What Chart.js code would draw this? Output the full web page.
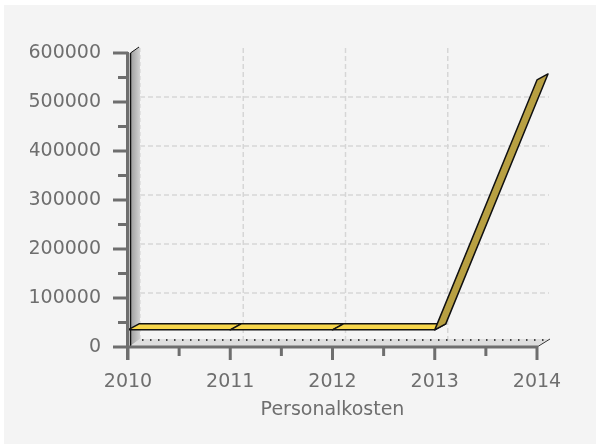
<!DOCTYPE html>
<html>
<head>
<meta charset="utf-8">
<script src="https://cdn.jsdelivr.net/npm/chart.js@4.4.0/dist/chart.umd.min.js"></script>
<style>
html, body { margin: 0; padding: 0; background: #ffffff; }
</style>
</head>
<body>
<canvas id="chart" width="596" height="444"></canvas>
<script>
const years = ["2010", "2011", "2012", "2013", "2014"];
const personalkosten = [35000, 35000, 35000, 35000, 545000];
const yTicks = [0, 100000, 200000, 300000, 400000, 500000, 600000];

const axisGray = "#6e6e6e";
const labelFont = { family: "DejaVu Sans", size: 19 };
const depthX = 11;
const depthY = -6;

function line(ctx, x1, y1, x2, y2) {
    ctx.beginPath();
    ctx.moveTo(x1, y1);
    ctx.lineTo(x2, y2);
    ctx.stroke();
}

const panelPlugin = {
    id: "panel",
    beforeDraw(chart) {
        const ctx = chart.ctx;
        ctx.save();
        ctx.fillStyle = "#ffffff";
        ctx.fillRect(0, 0, chart.width, chart.height);
        ctx.fillStyle = "#f4f4f4";
        ctx.fillRect(4, 5, chart.width - 4, chart.height - 5);
        ctx.restore();
    },
    beforeDatasetsDraw(chart) {
        const ctx = chart.ctx;
        const xs = chart.scales.x, ys = chart.scales.y;
        const a = chart.chartArea;
        const top = ys.getPixelForValue(yTicks[yTicks.length - 1]);
        ctx.save();

        // floor
        ctx.fillStyle = "#dedede";
        ctx.beginPath();
        ctx.moveTo(a.left + 2, a.bottom - 1);
        ctx.lineTo(a.right, a.bottom - 1);
        ctx.lineTo(a.right + 12, a.bottom - 8);
        ctx.lineTo(a.left + 12, a.bottom - 8);
        ctx.closePath();
        ctx.fill();

        // back grid
        ctx.setLineDash([5, 3]);
        ctx.strokeStyle = "#d6d6d6";
        ctx.lineWidth = 1.5;
        yTicks.slice(1, -1).forEach(v => {
            const py = ys.getPixelForValue(v) - 5;
            line(ctx, a.left + 12, py, a.right + 12, py);
        });
        years.slice(1, -1).forEach((lbl, i) => {
            const px = xs.getPixelForValue(i + 1) + 13;
            line(ctx, px, top - 5, px, a.bottom - 4);
        });

        // wall
        const g = ctx.createLinearGradient(a.left + 2, 0, a.left + 12, 0);
        g.addColorStop(0, "#9a9a9a");
        g.addColorStop(1, "#d2d2d2");
        ctx.setLineDash([]);
        ctx.fillStyle = g;
        ctx.beginPath();
        ctx.moveTo(a.left + 2, top);
        ctx.lineTo(a.left + 12, top - 6);
        ctx.lineTo(a.left + 12, a.bottom - 8);
        ctx.lineTo(a.left + 2, a.bottom - 1);
        ctx.closePath();
        ctx.fill();
        ctx.setLineDash([4, 3]);
        ctx.strokeStyle = "#e2e2e2";
        ctx.lineWidth = 1;
        line(ctx, a.left + 12.5, top - 5, a.left + 12.5, a.bottom - 8);

        // dotted back edge of floor
        ctx.setLineDash([1.5, 6.5]);
        ctx.strokeStyle = "#111111";
        ctx.lineWidth = 1.5;
        line(ctx, a.left + 14, a.bottom - 7, a.right + 10, a.bottom - 7);
        ctx.setLineDash([]);
        ctx.lineWidth = 1;
        ctx.strokeStyle = "#333333";
        line(ctx, a.right, a.bottom, a.right + 13, a.bottom - 8);

        // wall edges
        ctx.strokeStyle = "#111111";
        ctx.lineWidth = 1.5;
        line(ctx, a.left + 2.5, top, a.left + 2.5, a.bottom - 1);
        ctx.lineWidth = 1;
        line(ctx, a.left + 2.5, top, a.left + 11, top - 6);
        ctx.restore();
    },
    afterDatasetsDraw(chart) {
        const ctx = chart.ctx;
        const xs = chart.scales.x, ys = chart.scales.y;
        const a = chart.chartArea;
        const pts = chart.getDatasetMeta(0).data;
        ctx.save();

        // 3d ribbon
        ctx.lineJoin = "round";
        for (let i = 0; i < pts.length - 1; i++) {
            const p1 = pts[i], p2 = pts[i + 1];
            const steep = Math.abs(p2.y - p1.y) > 5;
            ctx.fillStyle = steep ? "#b8a042" : "#f6d54a";
            ctx.strokeStyle = "#111111";
            ctx.lineWidth = 1.5;
            ctx.beginPath();
            ctx.moveTo(p1.x, p1.y);
            ctx.lineTo(p2.x, p2.y);
            ctx.lineTo(p2.x + depthX, p2.y + depthY);
            ctx.lineTo(p1.x + depthX, p1.y + depthY);
            ctx.closePath();
            ctx.fill();
            ctx.stroke();
        }

        // front axes
        ctx.strokeStyle = axisGray;
        ctx.lineWidth = 3;
        const top = ys.getPixelForValue(yTicks[yTicks.length - 1]);
        line(ctx, a.left - 0.5, top - 1, a.left - 0.5, a.bottom + 13);
        line(ctx, a.left - 2, a.bottom, a.right + 1, a.bottom);
        yTicks.forEach((v, i) => {
            const py = ys.getPixelForValue(v);
            line(ctx, a.left - 15, py, a.left, py);
            if (i < yTicks.length - 1) {
                const pm = ys.getPixelForValue((v + yTicks[i + 1]) / 2);
                line(ctx, a.left - 10, pm, a.left, pm);
            }
        });
        years.forEach((lbl, i) => {
            const px = xs.getPixelForValue(i);
            line(ctx, px, a.bottom, px, a.bottom + 13);
            if (i < years.length - 1) {
                const pm = (px + xs.getPixelForValue(i + 1)) / 2;
                line(ctx, pm, a.bottom, pm, a.bottom + 9);
            }
        });
        ctx.restore();
    }
};

new Chart(document.getElementById("chart"), {
    type: "line",
    data: {
        labels: years,
        datasets: [{
            label: "Personalkosten",
            data: personalkosten,
            borderColor: "transparent",
            backgroundColor: "transparent",
            borderWidth: 0,
            pointRadius: 0
        }]
    },
    options: {
        responsive: false,
        animation: false,
        layout: {
            padding: { left: 30, top: 53, right: 59, bottom: 0 }
        },
        plugins: {
            legend: { display: false },
            tooltip: { enabled: false }
        },
        scales: {
            x: {
                offset: false,
                grid: { color: "transparent", drawOnChartArea: false, tickLength: 12 },
                border: { display: false },
                ticks: { color: axisGray, font: labelFont, padding: 12, maxRotation: 0 },
                title: {
                    display: true,
                    text: "Personalkosten",
                    color: axisGray,
                    font: labelFont,
                    padding: { top: 0, bottom: 23 }
                },
                afterFit: function (scale) {
                    scale.height = 97;
                }
            },
            y: {
                min: 0,
                max: 600000,
                grid: { color: "transparent", drawOnChartArea: false, tickLength: 15 },
                border: { display: false },
                ticks: {
                    stepSize: 100000,
                    color: axisGray,
                    font: labelFont,
                    padding: 12,
                    callback: function (value) {
                        return String(value);
                    }
                },
                afterFit: function (scale) {
                    scale.width = 98;
                }
            }
        }
    },
    plugins: [panelPlugin]
});
</script>
</body>
</html>
